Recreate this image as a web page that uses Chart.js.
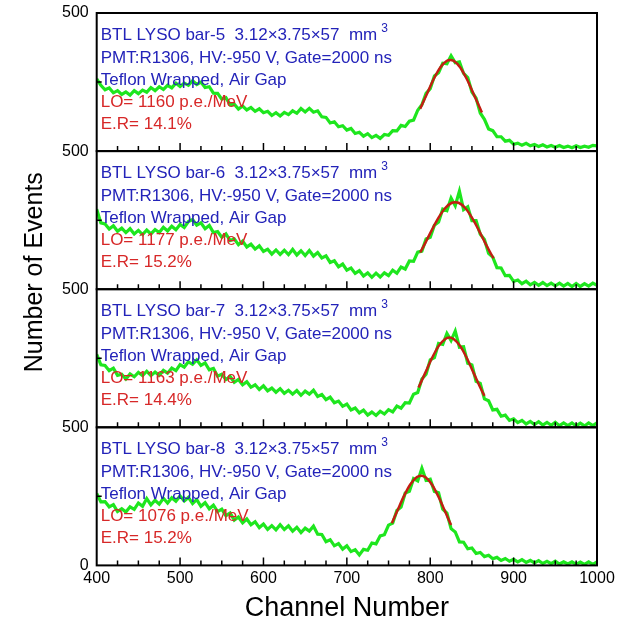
<!DOCTYPE html>
<html>
<head>
<meta charset="utf-8">
<script src="https://cdn.jsdelivr.net/npm/chart.js@4.4.0/dist/chart.umd.min.js"></script>
<style>
  html, body { margin: 0; padding: 0; background: #fff; }
  #plot { display: block; }
</style>
</head>
<body>
<canvas id="plot" width="625" height="627"></canvas>
<script>
// Channel bins (5-channel steps) shared by all four spectra
const channels = Array.from({ length: 121 }, (_, i) => 400 + 5 * i);

// Measured spectra, counts per bin
const bar5Counts = [
  262, 238, 222, 229, 211, 219, 205, 214, 203, 219,
  208, 221, 213, 230, 219, 233, 223, 238, 229, 246,
  234, 246, 238, 255, 241, 250, 230, 233, 210, 209,
  188, 193, 168, 170, 152, 163, 149, 158, 144, 153,
  139, 144, 129, 139, 127, 140, 132, 146, 137, 154,
  142, 155, 141, 146, 124, 122, 102, 106, 88, 92,
  76, 82, 64, 68, 54, 63, 49, 57, 46, 60,
  57, 74, 73, 93, 89, 108, 112, 148, 168, 209,
  226, 272, 284, 318, 316, 345, 320, 323, 281, 266,
  214, 192, 138, 115, 80, 74, 52, 52, 36, 39,
  25, 29, 21, 28, 19, 24, 17, 23, 15, 20,
  14, 20, 13, 18, 12, 19, 13, 18, 14, 21,
  19
];
const bar6Counts = [
  290, 240, 236, 218, 230, 210, 221, 205, 219, 200,
  213, 198, 214, 200, 216, 205, 224, 211, 228, 215,
  234, 223, 245, 252, 232, 240, 219, 231, 205, 209,
  188, 200, 176, 182, 161, 174, 153, 163, 145, 157,
  137, 145, 127, 142, 126, 141, 125, 144, 124, 139,
  122, 140, 120, 133, 113, 121, 97, 103, 81, 91,
  69, 77, 57, 67, 48, 59, 43, 58, 44, 59,
  49, 69, 58, 80, 73, 102, 101, 134, 138, 182,
  188, 232, 243, 290, 284, 330, 302, 355, 288, 298,
  248, 248, 199, 180, 130, 116, 78, 77, 49, 50,
  28, 33, 20, 29, 16, 25, 14, 24, 13, 22,
  12, 22, 11, 21, 10, 21, 10, 20, 11, 22,
  14
];
const bar7Counts = [
  264, 226, 224, 205, 214, 188, 192, 175, 193, 183,
  199, 187, 203, 187, 200, 188, 206, 196, 214, 205,
  227, 218, 237, 228, 244, 224, 233, 208, 213, 185,
  192, 173, 184, 163, 173, 154, 165, 145, 154, 137,
  150, 132, 142, 127, 140, 123, 134, 120, 133, 116,
  131, 120, 134, 112, 119, 100, 109, 89, 95, 76,
  84, 63, 70, 52, 62, 44, 55, 43, 58, 48,
  64, 56, 77, 69, 89, 88, 120, 126, 175, 192,
  244, 252, 304, 300, 340, 314, 348, 290, 292, 232,
  226, 166, 159, 103, 96, 63, 65, 40, 44, 25,
  31, 17, 25, 12, 21, 10, 20, 8, 18, 7,
  18, 6, 16, 6, 16, 5, 15, 5, 16, 6,
  16
];
const bar8Counts = [
  260, 230, 231, 212, 220, 195, 205, 193, 212, 203,
  226, 214, 242, 219, 236, 222, 243, 226, 245, 232,
  251, 233, 246, 224, 238, 214, 227, 205, 218, 195,
  204, 180, 190, 164, 175, 154, 168, 147, 158, 137,
  150, 130, 144, 129, 147, 130, 143, 124, 138, 119,
  135, 124, 142, 113, 112, 86, 93, 71, 79, 59,
  71, 50, 57, 38, 58, 55, 81, 78, 107, 111,
  146, 153, 199, 211, 262, 268, 314, 306, 352, 308,
  312, 268, 263, 204, 189, 133, 121, 85, 84, 60,
  63, 43, 47, 32, 37, 24, 29, 18, 25, 15,
  22, 13, 21, 11, 18, 9, 17, 7, 15, 6,
  15, 5, 13, 5, 13, 4, 12, 4, 13, 4,
  13
];

// Photopeak fits (channel, fitted counts)
const bar5FitChannels = [788, 796, 804, 812, 820, 824, 828, 836, 844, 852, 860, 862];
const bar5Fit         = [153, 207, 260, 303, 327, 330, 327, 303, 260, 207, 153, 140];
const bar6FitChannels = [788, 794, 802, 810, 818, 826, 830, 834, 842, 850, 858, 866, 874, 876];
const bar6Fit         = [133, 167, 215, 259, 294, 313, 315, 313, 294, 259, 215, 167, 122, 112];
const bar7FitChannels = [786, 794, 802, 810, 818, 823, 828, 836, 844, 852, 860, 865];
const bar7Fit         = [144, 197, 250, 294, 320, 325, 320, 294, 250, 197, 144, 114];
const bar8FitChannels = [754, 760, 768, 776, 784, 789, 794, 802, 810, 818, 825];
const bar8Fit         = [153, 194, 248, 293, 320, 325, 320, 293, 248, 194, 146];

// Per-bar annotations
const barNames    = ['bar-5', 'bar-6', 'bar-7', 'bar-8'];
const lightYield  = [1160, 1177, 1163, 1076];
const resolution  = ['14.1', '15.2', '14.4', '15.2'];

// Axis ticks
const xTickValues = [400, 500, 600, 700, 800, 900, 1000];
const yTickValues = [0, 250, 500];

const FONT = '"Liberation Sans", Arial, Helvetica, sans-serif';
const GREEN = 'rgb(30,230,30)';
const FIT_RED = 'rgb(195,30,20)';
const TEXT_BLUE = 'rgb(35,35,185)';
const TEXT_RED = 'rgb(215,40,40)';

const panels = [
  { id: 'y5', counts: bar5Counts, fitCh: bar5FitChannels, fit: bar5Fit },
  { id: 'y6', counts: bar6Counts, fitCh: bar6FitChannels, fit: bar6Fit },
  { id: 'y7', counts: bar7Counts, fitCh: bar7FitChannels, fit: bar7Fit },
  { id: 'y8', counts: bar8Counts, fitCh: bar8FitChannels, fit: bar8Fit }
];

const datasets = [];
panels.forEach(p => {
  datasets.push({
    data: p.fitCh.map((c, i) => ({ x: c, y: p.fit[i] })),
    yAxisID: p.id,
    borderColor: FIT_RED,
    borderWidth: 2.5,
    cubicInterpolationMode: 'monotone',
    pointRadius: 0,
    order: 0
  });
  datasets.push({
    data: channels.map((c, i) => ({ x: c, y: p.counts[i] })),
    yAxisID: p.id,
    borderColor: GREEN,
    borderWidth: 3.2,
    borderJoinStyle: 'miter',
    tension: 0,
    pointRadius: 0,
    order: 1
  });
});

function panelAxis(showZero, weight) {
  return {
    type: 'linear',
    position: 'left',
    stack: 'panels',
    stackWeight: 1,
    weight: weight,
    min: 0,
    max: 500,
    afterBuildTicks: axis => { axis.ticks = yTickValues.map(v => ({ value: v })); },
    ticks: {
      color: '#000',
      font: { family: FONT, size: 16, lineHeight: 0.6 },
      padding: 8,
      autoSkip: false,
      callback: v => (v === 500 || (showZero && v === 0)) ? String(v) : ''
    },
    grid: { display: false, drawTicks: false },
    border: { display: false }
  };
}

// Frames, inward tick marks, annotations and the vertical axis title
const panelDecor = {
  id: 'panelDecor',
  afterDatasetsDraw(chart) {
    const ctx = chart.ctx;
    const xs = chart.scales.x;
    const area = chart.chartArea;
    ctx.save();
    panels.forEach((p, k) => {
      const ys = chart.scales[p.id];
      const top = ys.top, bottom = ys.bottom;

      ctx.strokeStyle = '#000';
      ctx.lineWidth = 1.5;
      ctx.beginPath();
      for (let ch = 425; ch < 1000; ch += 25) {
        const px = xs.getPixelForValue(ch);
        const len = ch % 100 === 0 ? 8 : 5;
        ctx.moveTo(px, bottom);
        ctx.lineTo(px, bottom - len);
      }
      const yMid = ys.getPixelForValue(250);
      ctx.moveTo(area.left, yMid);
      ctx.lineTo(area.left + 5, yMid);
      ctx.stroke();

      ctx.lineWidth = 2;
      ctx.strokeRect(area.left, top, area.right - area.left, bottom - top);

      const tx = area.left + 4;
      ctx.textAlign = 'left';
      ctx.textBaseline = 'alphabetic';
      ctx.font = '17px ' + FONT;
      ctx.fillStyle = TEXT_BLUE;
      const line1 = 'BTL LYSO ' + barNames[k] + '  3.12\u00d73.75\u00d757  mm';
      ctx.fillText(line1, tx, top + 27);
      const w1 = ctx.measureText(line1).width;
      ctx.font = '12px ' + FONT;
      ctx.fillText('3', tx + w1 + 4, top + 19);
      ctx.font = '17px ' + FONT;
      ctx.fillText('PMT:R1306, HV:-950 V, Gate=2000 ns', tx, top + 50);
      ctx.fillText('Teflon Wrapped, Air Gap', tx, top + 72);
      ctx.fillStyle = TEXT_RED;
      ctx.fillText('LO= ' + lightYield[k] + ' p.e./MeV', tx, top + 94);
      ctx.fillText('E.R= ' + resolution[k] + '%', tx, top + 116);
    });

    ctx.fillStyle = '#000';
    ctx.font = '25px ' + FONT;
    ctx.translate(42, (area.top + area.bottom) / 2 - 17);
    ctx.rotate(-Math.PI / 2);
    ctx.textAlign = 'center';
    ctx.textBaseline = 'alphabetic';
    ctx.fillText('Number of Events', 0, 0);
    ctx.restore();
  }
};

new Chart(document.getElementById('plot'), {
  type: 'line',
  data: { datasets },
  options: {
    responsive: false,
    animation: false,
    events: [],
    layout: { padding: { left: 54, right: 28, top: 13, bottom: 0 } },
    plugins: { legend: { display: false }, tooltip: { enabled: false } },
    scales: {
      x: {
        type: 'linear',
        position: 'bottom',
        min: 400,
        max: 1000,
        afterBuildTicks: axis => { axis.ticks = xTickValues.map(v => ({ value: v })); },
        ticks: {
          color: '#000',
          font: { family: FONT, size: 16 },
          padding: 4,
          maxRotation: 0,
          autoSkip: false,
          callback: v => String(v)
        },
        grid: { display: false, drawTicks: false },
        border: { display: false },
        title: {
          display: true,
          text: 'Channel Number',
          color: '#000',
          font: { family: FONT, size: 27 },
          padding: { top: 0, bottom: 2 }
        }
      },
      y5: panelAxis(false, 4),
      y6: panelAxis(false, 3),
      y7: panelAxis(false, 2),
      y8: panelAxis(true, 1)
    }
  },
  plugins: [panelDecor]
});
</script>
</body>
</html>
